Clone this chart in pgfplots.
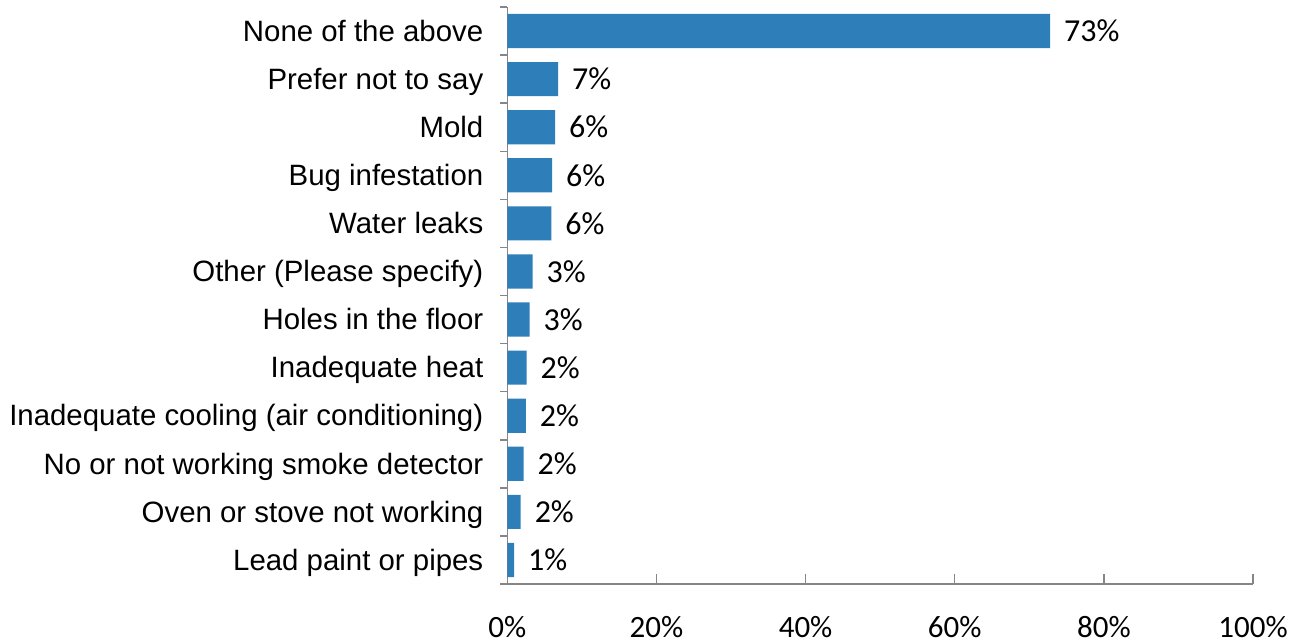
\documentclass[border=0pt]{standalone}
\usepackage{fontspec}
\setmainfont{Liberation Sans}
\newfontfamily\calibri{Carlito}
\usepackage{pgfplots}
\pgfplotsset{compat=1.18}
\usepackage{pgfplotstable}
\definecolor{barblue}{RGB}{46,126,185}
\definecolor{axgray}{RGB}{134,134,134}

\pgfplotstableread{
y x lab
0 72.8 73
1 6.8 7
2 6.4 6
3 6.0 6
4 5.9 6
5 3.4 3
6 3.0 3
7 2.6 2
8 2.5 2
9 2.2 2
10 1.8 2
11 0.9 1
}\data

\begin{document}
\begin{tikzpicture}
\begin{axis}[
  at={(0,0)}, anchor=south west,
  scale only axis, width=372.85bp, height=288.5bp,
  xmin=0, xmax=100, ymin=-0.5, ymax=11.5, y dir=reverse,
  axis x line*=bottom, axis y line*=left,
  axis line style={axgray, line width=0.75bp},
  every tick/.style={axgray, line width=0.75bp},
  tick align=inside,
  major tick length=5bp, minor tick length=3.5bp,
  xtick={0,20,40,60,80,100},
  xticklabels={0\%,20\%,40\%,60\%,80\%,100\%},
  x tick label style={font=\calibri\fontsize{15.5bp}{18bp}\selectfont, anchor=north, yshift=-12.5bp},
  ytick={0,...,11},
  yticklabels={None of the above, Prefer not to say, Mold, Bug infestation, Water leaks, Other (Please specify), Holes in the floor, Inadequate heat, Inadequate cooling (air conditioning), No or not working smoke detector, Oven or stove not working, Lead paint or pipes},
  y tick label style={font=\fontsize{14.7bp}{17bp}\selectfont, anchor=east, xshift=-3.5bp, yshift=-1.5bp, text height=0.73em, text depth=0pt},
  major y tick style={draw=none},
  minor ytick={-0.5,0.5,...,11.5},
  xbar, bar width=0.71, bar shift=0pt,
  point meta=explicit symbolic,
  nodes near coords={\pgfplotspointmeta\%},
  every node near coord/.append style={font=\calibri\fontsize{16bp}{18bp}\selectfont, black, anchor=west, xshift=3.5bp},
  clip=false,
]
\addplot[fill=barblue, draw=none] table[x=x, y=y, meta=lab] {\data};
\end{axis}
\pgfresetboundingbox
\path[use as bounding box] (-253.65bp,-29.5bp) rectangle (395.85bp,292bp);
\end{tikzpicture}
\end{document}
